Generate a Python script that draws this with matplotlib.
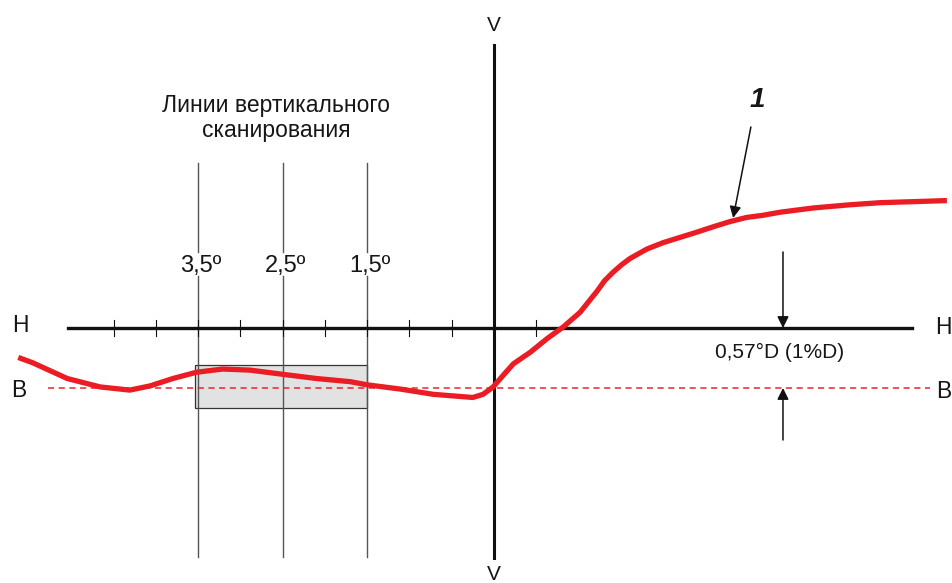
import matplotlib
matplotlib.use('Agg')
import matplotlib.pyplot as plt
from matplotlib.patches import Rectangle
import numpy as np

plt.rcParams['font.family'] = ['Liberation Sans', 'DejaVu Sans']

# red curve (1): horizontal angle, deg (left = positive) / vertical offset
curve_x = [5.63, 5.46, 5.05, 4.66, 4.31, 4.07, 3.80, 3.52, 3.21, 2.89, 2.50, 2.10,
           1.70, 1.50, 1.11, 0.72, 0.25, 0.13, 0.01, -0.13, -0.23, -0.43, -0.63,
           -0.82, -1.02, -1.12, -1.22, -1.31, -1.41, -1.51, -1.61, -1.81, -2.00, -2.20,
           -2.40, -2.59, -2.79, -2.99, -3.18, -3.39, -3.78, -4.21, -4.57, -5.36]
curve_y = [-0.28, -0.33, -0.48, -0.56, -0.59, -0.55, -0.48, -0.42, -0.39, -0.40, -0.44, -0.48,
           -0.51, -0.54, -0.58, -0.63, -0.66, -0.63, -0.56, -0.43, -0.34, -0.23, -0.10,
           0.01, 0.15, 0.25, 0.35, 0.45, 0.53, 0.60, 0.66, 0.75, 0.81, 0.86,
           0.91, 0.96, 1.01, 1.05, 1.07, 1.10, 1.14, 1.17, 1.19, 1.21]

h_ticks = [4.5, 4.0, 3.5, 3.0, 2.5, 2.0, 1.5, 1.0, 0.5, -0.5]
scan_lines = [3.5, 2.5, 1.5]
scan_labels = ['3,5º', '2,5º', '1,5º']
b_level = -0.57          # 0,57°D below H
box_x = [3.54, 1.50]
box_y = [-0.35, -0.76]

txt = '#161616'

fig = plt.figure(figsize=(9.53, 5.83), dpi=100)
ax = fig.add_axes([0, 0, 1, 1])
ax.set_xlim(5.846, -5.432)
ax.set_ylim(-2.422, 3.115)
ax.axis('off')

# grey window between scan lines
ax.add_patch(Rectangle((box_x[1], box_y[1]), box_x[0] - box_x[1], box_y[0] - box_y[1],
                       facecolor='#e2e2e2', edgecolor='#333333', lw=0.9, zorder=1))

# scan lines (split around the labels)
for x in scan_lines:
    ax.plot([x, x], [1.567, 0.722], color='#555555', lw=1.0, zorder=2)
    ax.plot([x, x], [0.494, -2.175], color='#555555', lw=1.0, zorder=2)
for x, lab in zip(scan_lines, scan_labels):
    ax.text(x - 0.03, 0.585, lab, ha='center', va='center', fontsize=17, color=txt)

ax.text(2.58, 1.994, 'Линии вертикального\nсканирования', ha='center', va='center',
        fontsize=16.5, color=txt, linespacing=1.15)

# H axis with ticks
ax.plot([5.04, -4.95], [0, 0], color='#111111', lw=2.4, zorder=3)
for t in h_ticks:
    ax.plot([t, t], [0.076, -0.076], color='#111111', lw=0.8, zorder=3)

# V axis
ax.plot([0, 0], [2.688, -2.185], color='#111111', lw=2.2, zorder=3)

# B level (dashed)
ax.plot([5.28, -5.16], [b_level, b_level], color='#e8262e', lw=1.1,
        dashes=(4, 3), zorder=3)

# curve
ax.plot(curve_x, curve_y, color='#ec1c24', lw=3.8, solid_capstyle='butt',
        solid_joinstyle='round', zorder=4)

# axis letters
ax.text(0, 2.877, 'V', ha='center', va='center', fontsize=15, color=txt)
ax.text(0, -2.34, 'V', ha='center', va='center', fontsize=15, color=txt)
ax.text(5.61, 0.02, 'H', ha='center', va='center', fontsize=16.5, color=txt)
ax.text(-5.32, 0.0, 'H', ha='center', va='center', fontsize=16.5, color=txt)
ax.text(5.62, -0.59, 'B', ha='center', va='center', fontsize=16.5, color=txt)
ax.text(-5.32, -0.60, 'B', ha='center', va='center', fontsize=16.5, color=txt)

# label 1 with pointer
ax.text(-3.11, 2.165, '1', ha='center', va='center', fontsize=20,
        fontweight='bold', fontstyle='italic', color=txt)
arrow = dict(arrowstyle='-|>', mutation_scale=17, lw=1.1, color='#111111',
             shrinkA=0, shrinkB=0)
ax.annotate('', xy=(-2.83, 1.045), xytext=(-3.04, 1.909), arrowprops=arrow)

# 0,57°D dimension arrows
ax.annotate('', xy=(-3.42, 0.0), xytext=(-3.42, 0.722), arrowprops=arrow)
ax.annotate('', xy=(-3.42, b_level), xytext=(-3.42, -1.064), arrowprops=arrow)
ax.text(-3.385, -0.237, '0,57°D (1%D)', ha='center', va='center', fontsize=15,
        color=txt)

fig.savefig('out.png', dpi=100, facecolor='white')
